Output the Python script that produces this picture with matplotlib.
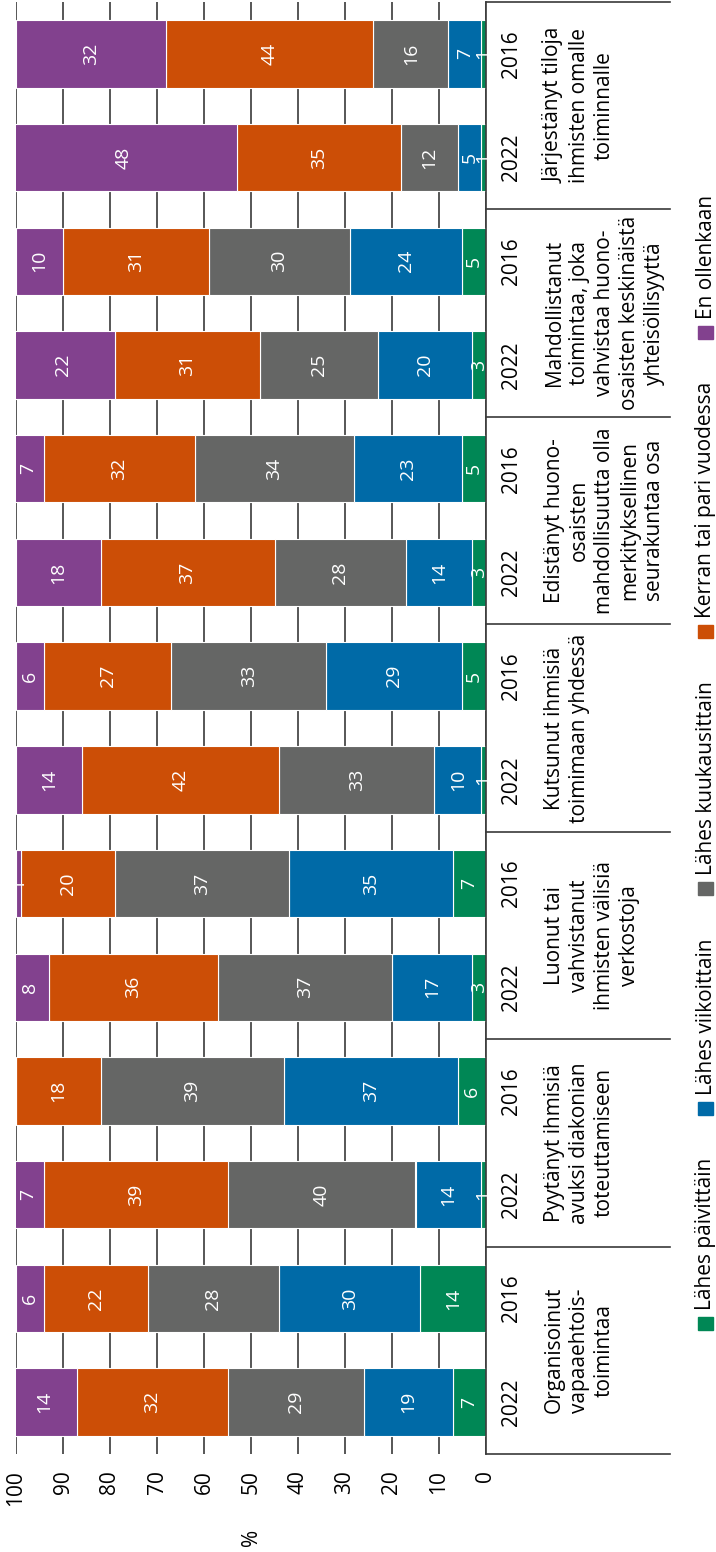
import numpy as np
import matplotlib.pyplot as plt
from matplotlib import transforms
from matplotlib.patches import Rectangle

plt.rcParams['font.family'] = ['Open Sans', 'DejaVu Sans']

# rivit alhaalta ylös: vuosi + toimintaryhmä
years = ['2022', '2016'] * 7
groups = [
    'Organisoinut\nvapaaehtois-\ntoimintaa',
    'Pyytänyt ihmisiä\navuksi diakonian\ntoteuttamiseen',
    'Luonut tai\nvahvistanut\nihmisten välisiä\nverkostoja',
    'Kutsunut ihmisiä\ntoimimaan yhdessä',
    'Edistänyt huono-\nosaisten\nmahdollisuutta olla\nmerkityksellinen\nseurakuntaa osa',
    'Mahdollistanut\ntoimintaa, joka\nvahvistaa huono-\nosaisten keskinäistä\nyhteisöllisyyttä',
    'Järjestänyt tiloja\nihmisten omalle\ntoiminnalle',
]

series = ['Lähes päivittäin', 'Lähes viikoittain', 'Lähes kuukausittain',
          'Kerran tai pari vuodessa', 'En ollenkaan']
colors = ['#008755', '#006aa7', '#656665', '#cc4e06', '#82418e']

paivittain = [7, 14, 1, 6, 3, 7, 1, 5, 3, 5, 3, 5, 1, 1]
viikoittain = [19, 30, 14, 37, 17, 35, 10, 29, 14, 23, 20, 24, 5, 7]
kuukausittain = [29, 28, 40, 39, 37, 37, 33, 33, 28, 34, 25, 30, 12, 16]
vuodessa = [32, 22, 39, 18, 36, 20, 42, 27, 37, 32, 31, 31, 35, 44]
ei_ollenkaan = [14, 6, 7, 0, 8, 1, 14, 6, 18, 7, 22, 10, 48, 32]
values = [paivittain, viikoittain, kuukausittain, vuodessa, ei_ollenkaan]

W, H = 716, 1552
fig = plt.figure(figsize=(W / 100, H / 100), dpi=100)
ax = fig.add_axes([16 / W, 98 / H, 470 / W, 1452 / H])

y = np.arange(len(years))
left = np.zeros(len(years))
for vals, name, c in zip(values, series, colors):
    vals = np.array(vals)
    ax.barh(y, vals, left=left, height=0.65, color=c, edgecolor='white',
            linewidth=0.8, zorder=2)
    for yi, v, l in zip(y, vals, left):
        if v > 0:
            ax.text(l + v / 2, yi, str(v), rotation=90, ha='center', va='center',
                    color='white', fontsize=14, zorder=3)
    left += vals

ax.set_xlim(100, 0)
ax.set_ylim(-0.5, len(years) - 0.5)
ax.set_xticks(range(0, 101, 10))
ax.tick_params(axis='x', length=0, pad=11.5, labelsize=15, labelrotation=90)
ax.tick_params(axis='y', left=False, labelleft=False)
ax.grid(axis='x', color='#3a3a3a', linewidth=1.2)
ax.set_axisbelow(True)
for s in ['top', 'bottom', 'left']:
    ax.spines[s].set_visible(False)
ax.spines['right'].set_color('#3a3a3a')
ax.spines['right'].set_linewidth(1.2)

# luokkien nimet oikealla
trans = transforms.blended_transform_factory(fig.transFigure, ax.transData)
for yi, yr in zip(y, years):
    ax.text(512 / W, yi, yr, transform=trans, rotation=90, ha='center',
            va='center', fontsize=15)
for k, g in enumerate(groups):
    ax.text(544 / W, 2 * k + 0.5, g, transform=trans, rotation=90, ha='left',
            va='center', multialignment='center', linespacing=1.25, fontsize=15)
for b in np.arange(-0.5, len(years), 2):
    ax.plot([486 / W, 670 / W], [b, b], transform=trans, color='#3a3a3a',
            linewidth=1.2, clip_on=False)

fig.text(252 / W, 1 - 1537 / H, '%', rotation=90, ha='center', va='center',
         fontsize=15)

# selite pystyyn oikeaan reunaan
renderer = fig.canvas.get_renderer()
ypix = H - 1330
for name, c in zip(series, colors):
    fig.add_artist(Rectangle((698 / W, ypix / H), 15 / W, 13 / H,
                             transform=fig.transFigure, color=c))
    t = fig.text(706 / W, (ypix + 20) / H, name, rotation=90, ha='center',
                 va='bottom', fontsize=15)
    h = t.get_window_extent(renderer).height
    ypix += 20 + h + 43

fig.savefig('out.png', dpi=100)
